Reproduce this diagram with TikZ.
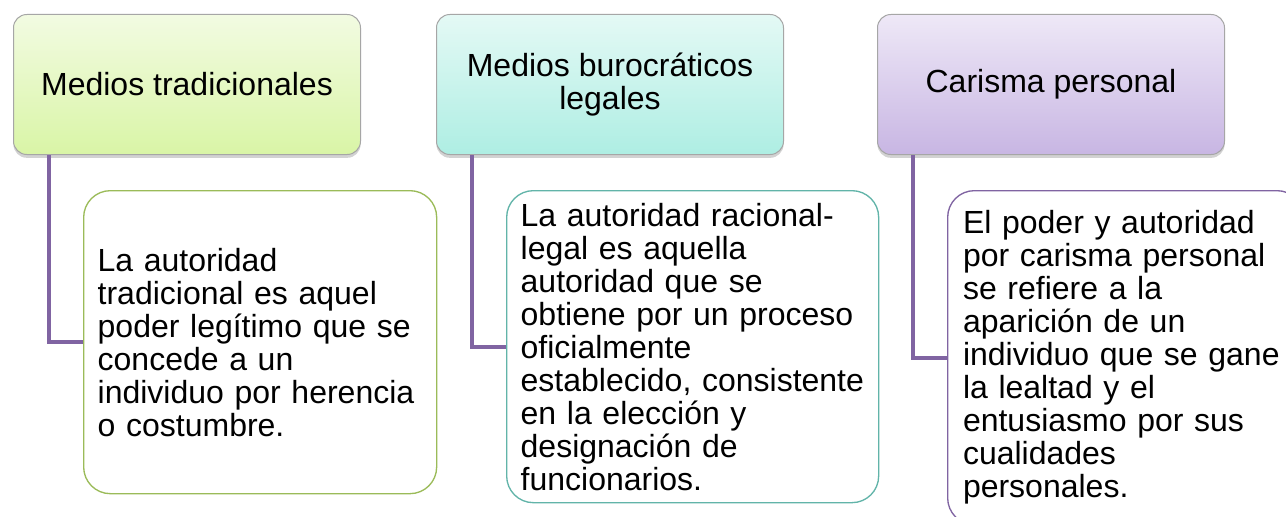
\documentclass[tikz,border=0pt]{standalone}
\usepackage{fontspec}
\setmainfont{Liberation Sans}
\usetikzlibrary{shadows}
\definecolor{headline}{HTML}{A6A6A6}
\definecolor{hAtop}{HTML}{F2FBE2}
\definecolor{hAbot}{HTML}{D9F5A6}
\definecolor{hBtop}{HTML}{E4F9F5}
\definecolor{hBbot}{HTML}{AEEEE3}
\definecolor{hCtop}{HTML}{EEE8F7}
\definecolor{hCbot}{HTML}{C8B6E3}
\definecolor{bAline}{HTML}{9BBB59}
\definecolor{bBline}{HTML}{62B4A9}
\definecolor{bCline}{HTML}{8064A2}
\definecolor{connline}{HTML}{8064A2}
\begin{document}
\begin{tikzpicture}[x=0.75pt,y=-0.75pt,
  head/.style={draw=headline, line width=0.75pt, rounded corners=10pt,
    anchor=north west, minimum width=260.25pt, minimum height=105pt,
    align=center, inner sep=4pt, font=\fontsize{24}{24.75}\selectfont,
    drop shadow={shadow xshift=0pt, shadow yshift=-2.5pt, opacity=0.35}},
  body/.style={line width=1pt, rounded corners=20pt, fill=white,
    anchor=north west, align=left, inner xsep=10.5pt, inner ysep=4pt,
    font=\fontsize{24}{24.75}\selectfont},
  conn/.style={draw=connline, line width=3pt}]
\useasboundingbox (0,0) rectangle (1286,517);
\clip (0,0) rectangle (1286,517);
\fill[white] (0,0) rectangle (1286,517);

\node[head, top color=hAtop, bottom color=hAbot] (h1) at (13,14) {Medios tradicionales};
\node[head, top color=hBtop, bottom color=hBbot] (h2) at (436,14) {Medios burocráticos\\legales};
\node[head, top color=hCtop, bottom color=hCbot] (h3) at (877,14) {Carisma personal};

\node[body, draw=bAline, text width=243.75pt, minimum width=264.75pt, minimum height=227.25pt] (b1) at (83,190)
  {La autoridad\\tradicional es aquel\\poder legítimo que se\\concede a un\\individuo por herencia\\o costumbre.};
\node[body, draw=bBline, text width=258pt, minimum width=278.25pt, minimum height=234pt] (b2) at (506,190)
  {La autoridad racional-\\legal es aquella\\autoridad que se\\obtiene por un proceso\\oficialmente\\establecido, consistente\\en la elección y\\designación de\\funcionarios.};
\node[body, draw=bCline, text width=244pt, minimum width=264.75pt, minimum height=250.5pt, inner xsep=11.5pt] (b3) at (947,190)
  {El poder y autoridad\\por carisma personal\\se refiere a la\\aparición de un\\individuo que se gane\\la lealtad y el\\entusiasmo por sus\\cualidades\\personales.};

\draw[conn] ([xshift=27pt]h1.south west) |- (b1.west);
\draw[conn] ([xshift=27pt]h2.south west) |- (b2.west);
\draw[conn] ([xshift=27pt]h3.south west) |- (b3.west);
\end{tikzpicture}
\end{document}
